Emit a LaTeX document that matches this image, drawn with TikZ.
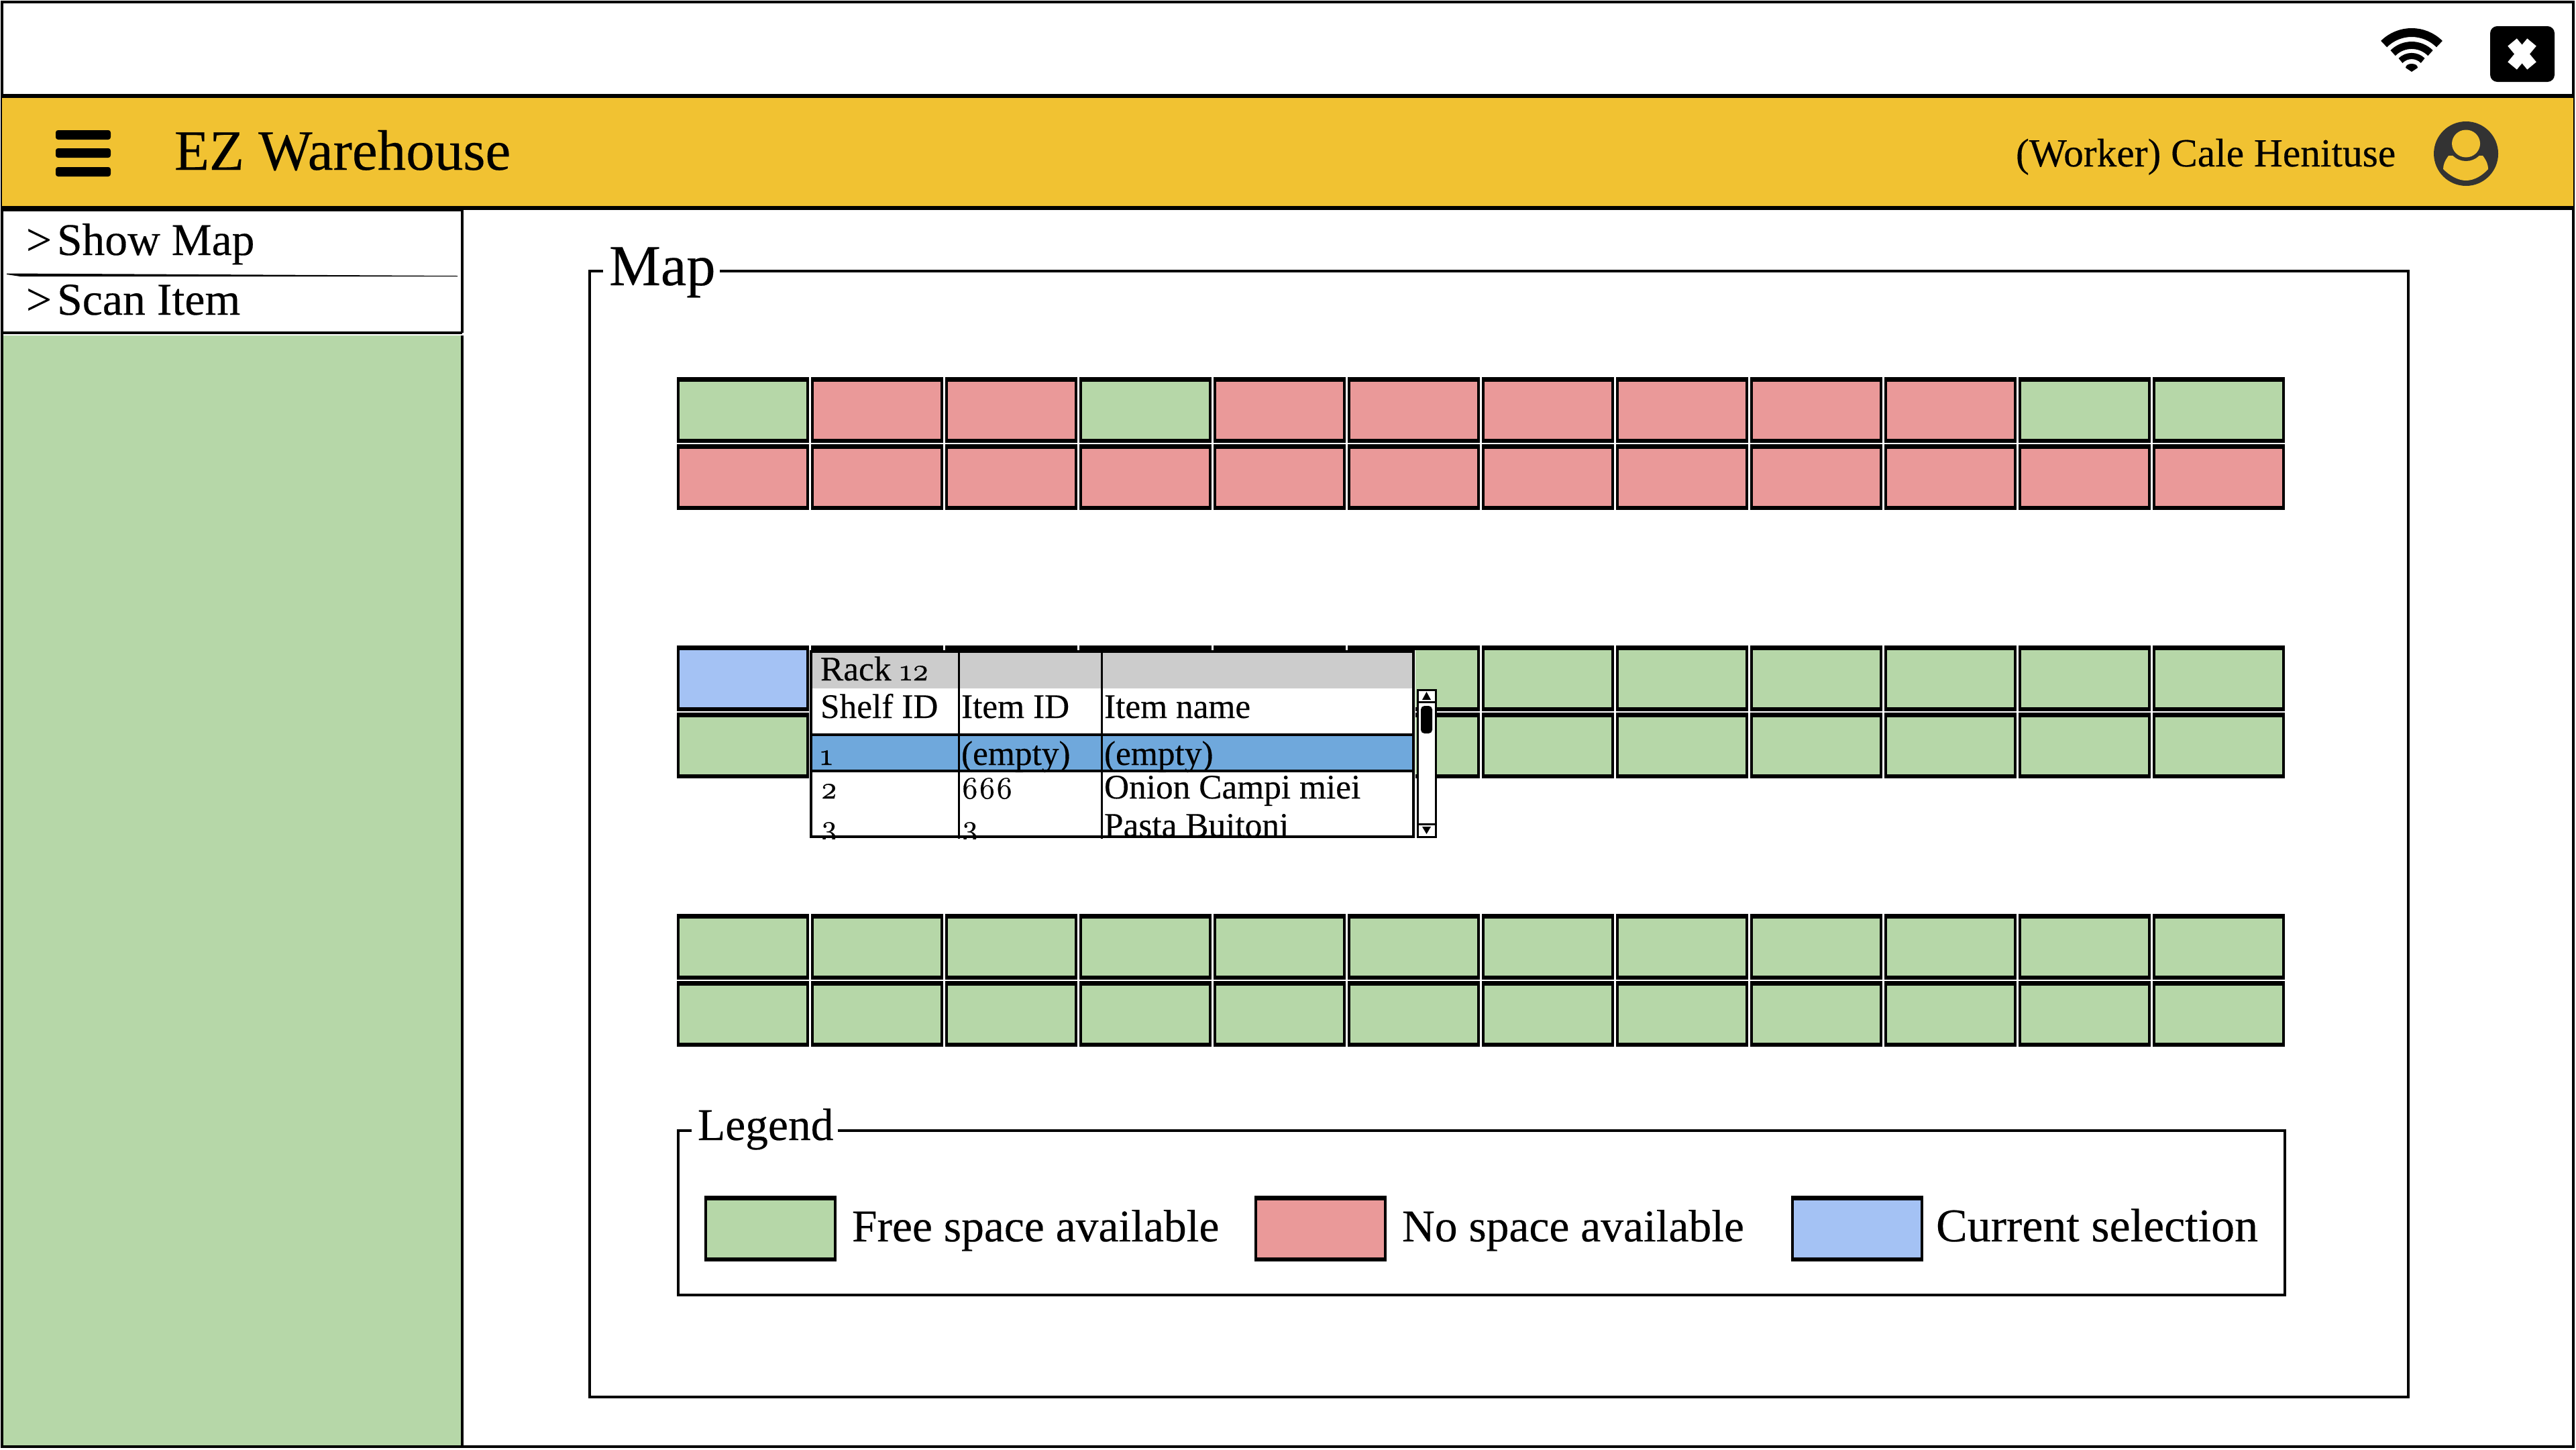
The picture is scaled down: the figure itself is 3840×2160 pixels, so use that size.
\documentclass[tikz,border=0pt]{standalone}
\usepackage{fontspec}
\setmainfont[FakeBold=0.25]{Liberation Serif}
\newfontfamily\oldnum[Numbers=OldStyle,FakeBold=0.6]{Latin Modern Roman}
\newcommand{\nm}[1]{{\oldnum\fontsize{13.2pt}{15pt}\selectfont #1}}
\definecolor{gr}{HTML}{B6D7A8}
\definecolor{rd}{HTML}{EA9999}
\definecolor{bl}{HTML}{A4C2F4}
\definecolor{yl}{HTML}{F1C232}
\definecolor{sel}{HTML}{6FA8DC}
\definecolor{hd}{HTML}{CCCCCC}
\definecolor{av}{HTML}{333333}
\tikzset{
  x=0.01cm,y=-0.01cm,
  line join=round,
  ln/.style={draw=black,line width=1.3pt},
  thinln/.style={draw=black,line width=0.85pt},
  shelf/.style={draw=black,line width=1pt,minimum width=1.93cm,minimum height=0.89cm,inner sep=0pt,anchor=north west,
    append after command={(\tikzlastnode.north west) edge[draw=black,line width=1.6pt] (\tikzlastnode.north east)
       (\tikzlastnode.south west) edge[draw=black,line width=1.6pt] (\tikzlastnode.south east)}},
  lbl/.style={anchor=base west,inner sep=0pt,outer sep=0pt,text=black},
  big/.style={lbl,font=\fontsize{24.2pt}{26pt}\selectfont},
  mid/.style={lbl,font=\fontsize{19.2pt}{21pt}\selectfont},
  usr/.style={lbl,font=\fontsize{16.9pt}{18pt}\selectfont},
  tbl/.style={lbl,font=\fontsize{14.6pt}{16pt}\selectfont},
}
\begin{document}
\begin{tikzpicture}
\useasboundingbox (0,0) rectangle (3840,2160);
\fill[white] (0,0) rectangle (3840,2160);
% window
\draw[ln] (3,3) rectangle (3836,2156);
\fill[yl] (3,143) rectangle (3836,310);
\draw[ln,line width=1.5pt] (3,143) -- (3836,143);
\draw[ln,line width=1.5pt] (3,310) -- (3836,310);
% hamburger
\foreach \yy in {194,221,249}{\fill[black,rounded corners=1pt] (83,\yy) rectangle (165,\yy+14);}
\node[big] (title) at (260,253) {EZ Warehouse};
\node[usr] (user) at (3005,248) {(Worker) Cale Henituse};
% avatar
\fill[av] (3676,229) ellipse [x radius=48,y radius=48];
\fill[yl] (3650,232) .. controls (3644,240) and (3642,246) .. (3642,252)
   .. controls (3652,262) and (3664,269) .. (3676,269)
   .. controls (3688,269) and (3700,262) .. (3709,252)
   .. controls (3709,246) and (3707,240) .. (3701,232) -- cycle;
\fill[av] (3676,214) ellipse [x radius=27,y radius=26];
\fill[yl] (3676,214) ellipse [x radius=21,y radius=20.5];
% wifi
\draw[line width=3.7pt] (3595,107) ++(-135:58.5) arc[start angle=-135,end angle=-45,radius=58.5];
\draw[line width=3.1pt] (3595,107) ++(-135:39.5) arc[start angle=-135,end angle=-45,radius=39.5];
\draw[line width=2.6pt] (3595,107) ++(-135:23.5) arc[start angle=-135,end angle=-45,radius=23.5];
\fill (3595,107) -- (3586,101) .. controls (3586,93) and (3604,93) .. (3604,101) -- cycle;
% close button
\fill[black,rounded corners=3pt] (3712,39) rectangle (3808,122);
\draw[white,line width=5pt] (3745,63) -- (3774,98);
\draw[white,line width=5pt] (3774,63) -- (3745,98);
% sidebar
\fill[gr] (5,500) rectangle (689,2154);
\draw[ln,line width=1pt] (689,500) -- (689,2156);
\draw[ln,line width=1pt] (689,313) -- (689,496);
\draw[ln] (3,313) -- (689,313);
\draw[ln] (3,496) -- (689,496);
\fill (10,407.5) -- (682,411) -- (682,412) -- (30,412) -- (10,409) -- cycle;
\node[mid] (arrA) at (39,380) {>};
\node[mid] (itemA) at (85,380) {Show Map};
\node[mid] (arrB) at (39,469) {>};
\node[mid,font=\fontsize{19.3pt}{21pt}\selectfont] (itemB) at (85,469) {Scan Item};
% map frame
\draw[ln] (899,404) -- (879,404) -- (879,2082) -- (3590,2082) -- (3590,404) -- (1073,404);
\node[big,font=\fontsize{24.6pt}{26pt}\selectfont] (map) at (908,425) {Map};
% shelves
\foreach \col [count=\i from 0] in {gr,rd,rd,gr,rd,rd,rd,rd,rd,rd,gr,gr}
  \node[shelf,fill=\col] (a\i) at (1009+200*\i,565) {};
\foreach \i in {0,...,11} \node[shelf,fill=rd] (b\i) at (1009+200*\i,665) {};
\foreach \i in {1,...,11} \node[shelf,fill=gr] (c\i) at (1009+200*\i,965) {};
\node[shelf,fill=bl] (c0) at (1009,965) {};
\foreach \i in {0,...,11} \node[shelf,fill=gr] (d\i) at (1009+200*\i,1065) {};
\foreach \i in {0,...,11} \node[shelf,fill=gr] (e\i) at (1009+200*\i,1365) {};
\foreach \i in {0,...,11} \node[shelf,fill=gr] (f\i) at (1009+200*\i,1465) {};
% table
\fill[white] (1207,969) rectangle (2110,1250);
\fill[hd] (1209,971) rectangle (2107,1026);
\fill[sel] (1207,1094) rectangle (2109,1151);
\node[tbl] (t1) at (1223,1014) {Rack \nm{12}};
\node[tbl] (t2) at (1223,1070) {Shelf ID};
\node[tbl] (t3) at (1433,1070) {Item ID};
\node[tbl] (t4) at (1646,1070) {Item name};
\node[tbl] (t5) at (1223,1140) {\nm{1}};
\node[tbl] (t6) at (1433,1140) {(empty)};
\node[tbl] (t7) at (1646,1140) {(empty)};
\node[tbl] (t8) at (1223,1190) {\nm{2}};
\node[tbl] (t9) at (1433,1190) {\nm{666}};
\node[tbl] (t10) at (1646,1190) {Onion Campi miei};
\begin{scope}
\clip (1200,1195) rectangle (2110,1250);
\node[tbl] (t11) at (1223,1247) {\nm{3}};
\node[tbl] (t12) at (1433,1247) {\nm{3}};
\node[tbl] (t13) at (1646,1247) {Pasta Buitoni};
\end{scope}
\draw[thinln] (1429,971) -- (1429,1250);
\draw[thinln] (1642,971) -- (1642,1250);
\draw[ln] (1209,1095) rectangle (2107,1149);
\draw[ln] (1209,971) rectangle (2107,1247);
% scrollbar
\draw[thinln,fill=white] (2113,1028) rectangle (2140,1247);
\draw[thinln] (2113,1046) -- (2140,1046);
\draw[thinln] (2113,1228) -- (2140,1228);
\fill (2126.5,1031) -- (2133,1043) -- (2120,1043) -- cycle;
\fill (2126.5,1243) -- (2133,1232) -- (2120,1232) -- cycle;
\fill[black,rounded corners=1.5pt] (2118,1052) rectangle (2135,1093);
% legend frame
\draw[ln] (1031,1685) -- (1011,1685) -- (1011,1930) -- (3406,1930) -- (3406,1685) -- (1249,1685);
\node[mid] (lg) at (1040,1699) {Legend};
\node[shelf,fill=gr] (s1) at (1050,1785) {};
\node[shelf,fill=rd] (s2) at (1870,1785) {};
\node[shelf,fill=bl] (s3) at (2670,1785) {};
\node[mid] (l1) at (1270,1850) {Free space available};
\node[mid] (l2) at (2090,1850) {No space available};
\node[mid,font=\fontsize{19.9pt}{21pt}\selectfont] (l3) at (2886,1850) {Current selection};
\end{tikzpicture}
\end{document}
